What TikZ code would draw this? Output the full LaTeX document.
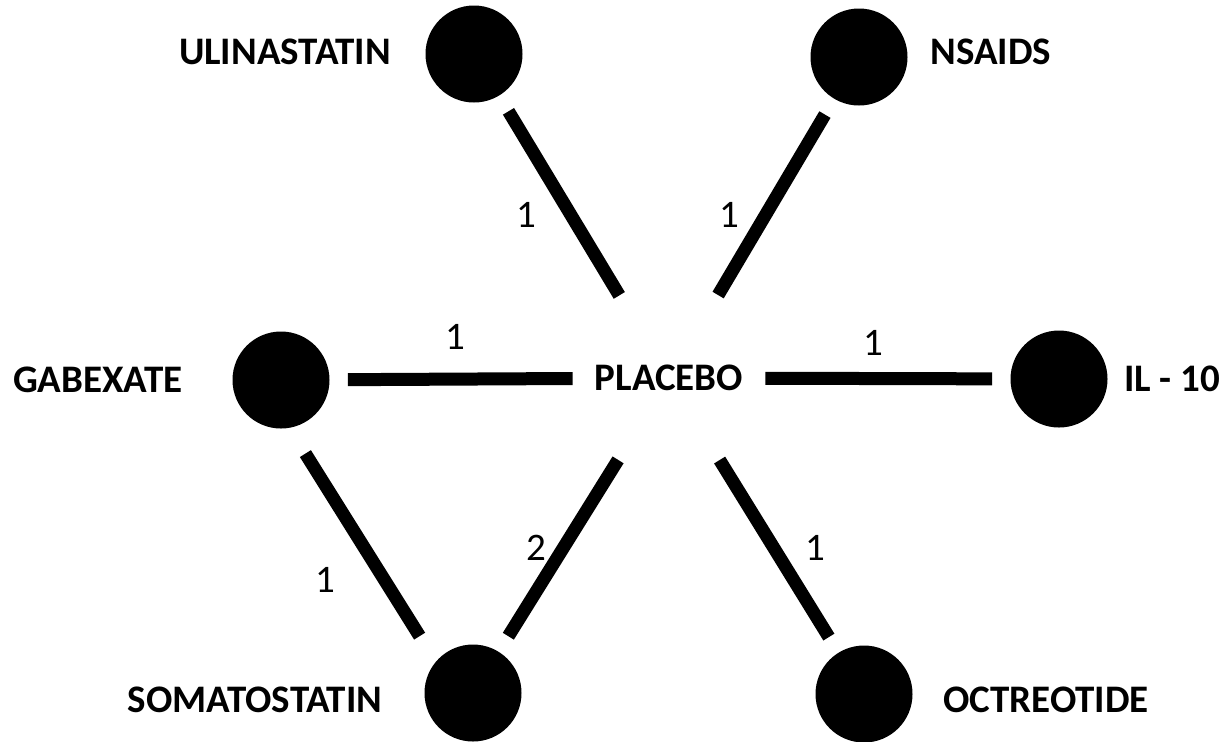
\documentclass[tikz,border=0pt]{standalone}
\usepackage{fontspec}
\setmainfont{Carlito}
\usepackage{tikz}
\usetikzlibrary{positioning}

\begin{document}
\begin{tikzpicture}[x=0.5pt,y=-0.5pt,
		drug/.style={circle,fill=black,draw=none,inner sep=0pt,minimum size=48.5pt},
		hub/.style={circle,draw=none,inner sep=0pt,minimum size=96pt,font=\fontsize{19.5}{23}\selectfont\bfseries},
		tag/.style={inner sep=0pt,font=\fontsize{19.5}{23}\selectfont\bfseries},
		num/.style={inner sep=0pt,font=\fontsize{19.5}{23}\selectfont},
		link/.style={line width=6.5pt,shorten >=9pt}]
	\useasboundingbox (0,0) rectangle (1231,741);
	\node[hub] (plac) at (669,378) {PLACEBO};
	\node[drug] (ulin) at (474,54) {};
	\node[drug] (nsaid) at (859,57) {};
	\node[drug] (gabex) at (281,380) {};
	\node[drug] (il10) at (1059,379) {};
	\node[drug] (somat) at (473,693) {};
	\node[drug] (octr) at (864,694) {};
	% drug names
	\node[tag] (ulintxt) at (285,52) {ULINASTATIN};
	\node[tag] (nsaidtxt) at (991,52) {NSAIDS};
	\node[tag] (gabextxt) at (98,380) {GABEXATE};
	\node[tag] (il10txt) at (1172,379) {IL - 10};
	\node[tag] (somattxt) at (255,700) {SOMATOSTATIN};
	\node[tag] (octrtxt) at (1046,700) {OCTREOTIDE};
	% comparisons
	\draw [link] (plac) -- (ulin);
	\draw [link] (plac) -- (nsaid);
	\draw [link] (plac) -- (gabex);
	\draw [link] (plac) -- (il10);
	\draw [link] (plac) -- (somat);
	\draw [link] (plac) -- (octr);
	\draw [link,shorten <=15pt,shorten >=15pt] (gabex.-80) -- (somat.140);
	% number of trials
	\node[num] (n1) at (526,215) {1};
	\node[num] (n2) at (729,215) {1};
	\node[num] (n3) at (455,337) {1};
	\node[num] (n4) at (873,343) {1};
	\node[num] (n5) at (325,580) {1};
	\node[num] (n6) at (536,548) {2};
	\node[num] (n7) at (815,548) {1};
\end{tikzpicture}
\end{document}
